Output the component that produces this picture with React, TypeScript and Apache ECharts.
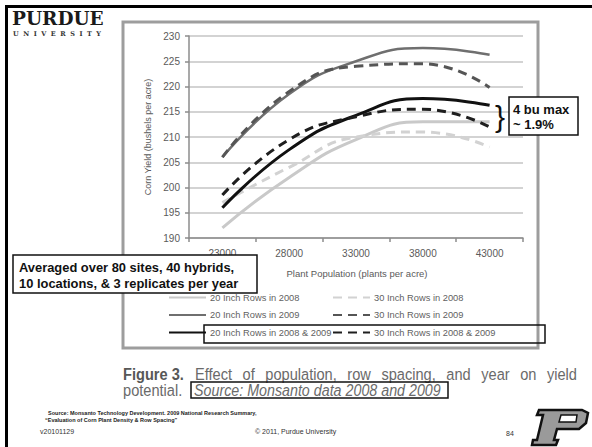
import React, { useEffect, useRef } from "react";
import * as echarts from "echarts";

const categories = ["23000", "28000", "33000", "38000", "43000"];
const seriesNames = [
  "20 Inch Rows in 2008",
  "30 Inch Rows in 2008",
  "20 Inch Rows in 2009",
  "30 Inch Rows in 2009",
  "20 Inch Rows in 2008 & 2009",
  "30 Inch Rows in 2008 & 2009",
];
const rows20in2008 = [192, 202, 209.5, 213, 213];
const rows30in2008 = [197, 204, 210, 211, 208];
const rows20in2009 = [206, 218.5, 225, 227.6, 226.3];
const rows30in2009 = [206, 219, 224, 224.5, 219.8];
const rows20inBoth = [196, 207.5, 214.3, 217.6, 216.3];
const rows30inBoth = [198.5, 209.5, 214, 215.5, 212];
const yTicks = { min: 190, max: 230, step: 5 };

const captionWords = ["Effect", "of", "population,", "row", "spacing,", "and", "year", "on", "yield"];

const seriesData = [rows20in2008, rows30in2008, rows20in2009, rows30in2009, rows20inBoth, rows30inBoth];
const seriesColors = ["#c9c9c9", "#d2d2d2", "#6f6f6f", "#555555", "#111111", "#1e1e1e"];
const seriesDashed = [false, true, false, true, false, true];
const seriesWidths = [3, 3, 2.5, 3, 3, 3];

const AX = "'Liberation Sans', Arial, sans-serif";
const NARROW_SCALE = 0.86;
const CAP_SIZE = 17;

function measure(text: string, font: string): number {
  const c = document.createElement("canvas").getContext("2d");
  if (!c) return text.length * 7;
  c.font = font;
  return c.measureText(text).width;
}

export default function App() {
  const ref = useRef<HTMLDivElement>(null);
  useEffect(() => {
    if (!ref.current) return;
    const chart = echarts.init(ref.current, undefined, { renderer: "svg" });
    const legendPos = [
      [168, 292], [332, 292],
      [168, 309.5], [332, 309.5],
      [168, 327], [332, 327],
    ];

    // justified caption line 1
    const capFont = `${CAP_SIZE}px 'Liberation Sans'`;
    const startX = 195;
    const endX = 577;
    const widths = captionWords.map((w) => measure(w, capFont) * NARROW_SCALE);
    const total = widths.reduce((a, b) => a + b, 0);
    const gap = (endX - startX - total) / (captionWords.length - 1);
    let cx = startX;
    const captionEls: any[] = captionWords.map((w, i) => {
      const el = {
        type: "text",
        x: cx,
        y: 374,
        scaleX: NARROW_SCALE,
        style: {
          text: w, fontSize: CAP_SIZE, fontFamily: AX, fill: "#6a6a6a",
          align: "left", verticalAlign: "middle",
        },
        z: 100,
      };
      cx += widths[i] + gap;
      return el;
    });

    const option: any = {
      animation: false,
      backgroundColor: "#ffffff",
      grid: { left: 189, right: 69, top: 36, bottom: 209, containLabel: false },
      xAxis: {
        type: "category",
        data: categories,
        boundaryGap: true,
        axisLine: { lineStyle: { color: "#8c8c8c", width: 1.5 } },
        axisTick: { show: true, interval: 0, length: 4, lineStyle: { color: "#8c8c8c", width: 1.5 } },
        axisLabel: { margin: 10, fontSize: 10, color: "#5a5a5a", fontFamily: AX },
        splitLine: { show: false },
      },
      yAxis: {
        type: "value",
        min: yTicks.min,
        max: yTicks.max,
        interval: yTicks.step,
        axisLine: { show: true, lineStyle: { color: "#8c8c8c", width: 1.5 } },
        axisTick: { show: true, length: 4, lineStyle: { color: "#8c8c8c", width: 1.5 } },
        axisLabel: { margin: 9, fontSize: 10, color: "#5a5a5a", fontFamily: AX },
        splitLine: { show: true, lineStyle: { color: "#c4c4c4", width: 1.5 } },
      },
      legend: seriesNames.map((n, i) => ({
        data: [n],
        left: legendPos[i][0],
        top: legendPos[i][1],
        padding: 0,
        itemWidth: 37,
        itemHeight: 14,
        itemGap: 0,
        itemStyle: { opacity: 0 },
        textStyle: { fontSize: 9.3, color: "#5f5f5f", fontFamily: AX, padding: [0, 0, 0, -1] },
      })),
      series: seriesNames.map((n, i) => ({
        name: n,
        type: "line",
        data: seriesData[i],
        smooth: 0.5,
        symbol: "none",
        showSymbol: false,
        z: 2 + i,
        lineStyle: {
          color: seriesColors[i],
          width: seriesWidths[i],
          type: seriesDashed[i] ? [9, 6] : "solid",
          cap: "butt",
        },
        itemStyle: { color: seriesColors[i] },
      })),
      graphic: [
        // slide frame lines
        { type: "rect", shape: { x: 5, y: 5, width: 587, height: 3 }, style: { fill: "#000" }, z: 100 },
        { type: "rect", shape: { x: 5, y: 5, width: 3, height: 442 }, style: { fill: "#000" }, z: 100 },
        // chart area border
        {
          type: "rect",
          shape: { x: 123, y: 22, width: 415, height: 326 },
          style: { fill: "none", stroke: "#9d9d9d", lineWidth: 3 },
          z: 100,
        },
        // Purdue wordmark
        {
          type: "text",
          x: 12, y: 18,
          style: {
            text: "PURDUE", fontSize: 18.5, fontWeight: "bold", fontFamily: "'DejaVu Serif', serif",
            fill: "#1a1a1a", verticalAlign: "middle", align: "left",
          },
          z: 100,
        },
        {
          type: "text",
          x: 13, y: 34,
          style: {
            text: "U  N  I  V  E  R  S  I  T  Y", fontSize: 6.5, fontWeight: "bold", fontFamily: "'DejaVu Serif', serif",
            fill: "#333", verticalAlign: "middle", align: "left",
          },
          z: 100,
        },
        // axis titles
        {
          type: "text",
          x: 148, y: 137, rotation: Math.PI / 2,
          style: {
            text: "Corn Yield (bushels per acre)", fontSize: 9, fontFamily: AX, fill: "#5a5a5a",
            align: "center", verticalAlign: "middle",
          },
          z: 100,
        },
        {
          type: "text",
          x: 357, y: 273,
          style: {
            text: "Plant Population (plants per acre)", fontSize: 9.5, fontFamily: AX, fill: "#5a5a5a",
            align: "center", verticalAlign: "middle",
          },
          z: 100,
        },
        // Averaged box
        {
          type: "rect",
          shape: { x: 13, y: 255, width: 244, height: 38 },
          style: { fill: "#fff", stroke: "#111", lineWidth: 1.5 },
          z: 110,
        },
        {
          type: "text",
          x: 19, y: 275,
          style: {
            text: "Averaged over 80 sites, 40 hybrids,\n10 locations, & 3 replicates per year",
            fontSize: 12.9, fontWeight: "bold", fontFamily: AX, fill: "#111", lineHeight: 16,
            align: "left", verticalAlign: "middle",
          },
          z: 111,
        },
        // 4 bu max box
        {
          type: "rect",
          shape: { x: 509, y: 97, width: 69, height: 38 },
          style: { fill: "#fff", stroke: "#111", lineWidth: 1.5 },
          z: 110,
        },
        {
          type: "text",
          x: 513, y: 116.5,
          style: {
            text: "4 bu max\n~ 1.9%", fontSize: 13, fontWeight: "bold", fontFamily: AX, fill: "#111",
            lineHeight: 15, align: "left", verticalAlign: "middle",
          },
          z: 111,
        },
        {
          type: "text",
          x: 500, y: 116,
          style: {
            text: "}", fontSize: 30, fontFamily: AX, fill: "#111",
            align: "center", verticalAlign: "middle",
          },
          z: 111,
        },
        // box around legend row 3
        {
          type: "rect",
          shape: { x: 204, y: 325, width: 341, height: 18 },
          style: { fill: "none", stroke: "#111", lineWidth: 1.5 },
          z: 110,
        },
        // caption
        {
          type: "text",
          x: 123, y: 374, scaleX: NARROW_SCALE,
          style: {
            text: "Figure 3.", fontSize: CAP_SIZE, fontWeight: "bold", fontFamily: AX, fill: "#575757",
            align: "left", verticalAlign: "middle",
          },
          z: 100,
        },
        ...captionEls,
        {
          type: "text",
          x: 123, y: 390, scaleX: NARROW_SCALE,
          style: {
            text: "potential.", fontSize: CAP_SIZE, fontFamily: AX, fill: "#6a6a6a",
            align: "left", verticalAlign: "middle",
          },
          z: 100,
        },
        {
          type: "rect",
          shape: { x: 191, y: 382, width: 257, height: 16 },
          style: { fill: "none", stroke: "#111", lineWidth: 1.5 },
          z: 100,
        },
        {
          type: "text",
          x: 194, y: 390, scaleX: 0.84,
          style: {
            text: "Source: Monsanto data 2008 and 2009", fontSize: CAP_SIZE, fontStyle: "italic", fontFamily: AX,
            fill: "#6a6a6a", align: "left", verticalAlign: "middle",
          },
          z: 100,
        },
        // footer
        {
          type: "text",
          x: 48, y: 413,
          style: {
            text: "Source: Monsanto Technology Development. 2009 National Research Summary,",
            fontSize: 5.5, fontWeight: "bold", fontFamily: AX, fill: "#222", align: "left", verticalAlign: "middle",
          },
          z: 100,
        },
        {
          type: "text",
          x: 45, y: 420,
          style: {
            text: "\u201cEvaluation of Corn Plant Density & Row Spacing\u201d",
            fontSize: 5.5, fontWeight: "bold", fontFamily: AX, fill: "#222", align: "left", verticalAlign: "middle",
          },
          z: 100,
        },
        {
          type: "text",
          x: 40, y: 431,
          style: { text: "v20101129", fontSize: 7, fontFamily: AX, fill: "#333", align: "left", verticalAlign: "middle" },
          z: 100,
        },
        {
          type: "text",
          x: 255, y: 431,
          style: { text: "\u00a9 2011, Purdue University", fontSize: 7, fontFamily: AX, fill: "#333", align: "left", verticalAlign: "middle" },
          z: 100,
        },
        {
          type: "text",
          x: 506, y: 433,
          style: { text: "84", fontSize: 7, fontFamily: AX, fill: "#333", align: "left", verticalAlign: "middle" },
          z: 100,
        },
        // Purdue P logo
        {
          type: "polygon",
          shape: {
            points: [
              [539, 410], [582, 410], [588, 413], [586, 423], [579, 429], [557, 429],
              [554, 440], [558, 440], [556, 445], [532, 445], [533, 440], [537, 440],
              [543, 415], [537, 415],
            ],
          },
          style: { fill: "#9a9a9a", stroke: "#111", lineWidth: 2.5, lineJoin: "miter" },
          z: 100,
        },
        {
          type: "polygon",
          shape: { points: [[561, 415], [577, 415], [576, 422], [559, 422]] },
          style: { fill: "#ffffff", stroke: "#111", lineWidth: 1.5 },
          z: 101,
        },
      ],
    };
    chart.setOption(option);
    return () => chart.dispose();
  }, []);
  return (
    <div
      ref={ref}
      style={{ position: "absolute", left: 0, top: 0, width: 592, height: 447, background: "#fff" }}
    />
  );
}
